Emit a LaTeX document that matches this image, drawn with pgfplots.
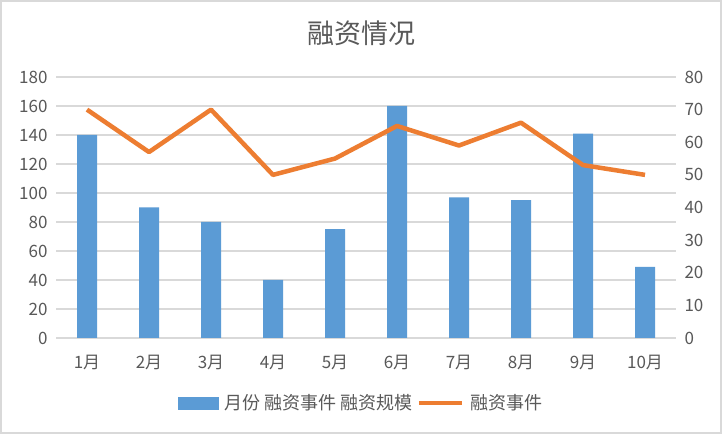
\documentclass[border=0pt]{standalone}
\usepackage{pgfplots}
\pgfplotsset{compat=1.18}
\usepackage{fontspec}
\setmainfont{Noto Sans CJK SC}
\definecolor{barblue}{HTML}{5B9BD5}
\definecolor{lineorange}{HTML}{ED7D31}
\definecolor{gridgray}{HTML}{D9D9D9}
\definecolor{txtgray}{HTML}{595959}
\begin{document}
\begin{tikzpicture}
\useasboundingbox (0,0) rectangle (722bp,434bp);
\fill[white] (0,0) rectangle (722bp,434bp);
\draw[gridgray, line width=2bp] (1bp,1bp) rectangle (721bp,433bp);
\node[txtgray, font=\fontsize{27bp}{31bp}\selectfont] at (361bp,401bp) {融资情况};
\begin{axis}[
  at={(56bp,96bp)}, anchor=south west,
  scale only axis, width=620bp, height=261bp,
  xmin=0.5, xmax=10.5, ymin=0, ymax=180,
  xtick={1,...,10},
  xticklabels={1月,2月,3月,4月,5月,6月,7月,8月,9月,10月},
  ytick={0,20,...,180},
  axis line style={draw=none},
  major tick length=0pt,
  ymajorgrids, grid style={gridgray, line width=1.3bp},
  tick label style={txtgray, font=\fontsize{17bp}{20bp}\selectfont},
  /pgf/number format/assume math mode=true,
  xticklabel style={yshift=-14bp},
  yticklabel style={xshift=-5bp},
]
\addplot[ybar, bar width=20bp, bar shift=0pt, fill=barblue, draw=none]
  coordinates {(1,140) (2,90) (3,80) (4,40) (5,75) (6,160) (7,97) (8,95) (9,141) (10,49)};
\end{axis}
\begin{axis}[
  at={(56bp,96bp)}, anchor=south west,
  scale only axis, width=620bp, height=261bp,
  xmin=0.5, xmax=10.5, ymin=0, ymax=80,
  axis y line*=right, axis x line=none,
  ytick={0,10,...,80},
  axis line style={draw=none},
  major tick length=0pt,
  tick label style={txtgray, font=\fontsize{17bp}{20bp}\selectfont},
  /pgf/number format/assume math mode=true,
  yticklabel style={xshift=5bp},
  legend style={draw=none, fill=none, at={(0.492,-0.249)}, anchor=center,
    font=\fontsize{18bp}{21bp}\selectfont, text=txtgray,
    /tikz/every odd column/.append style={column sep=4bp},
    /tikz/every even column/.append style={column sep=2bp}},
  legend columns=2,
]
\addlegendimage{legend image code/.code={\fill[barblue] (0bp,-6bp) rectangle (40bp,6bp);}}
\addlegendentry{月份 融资事件 融资规模}
\addplot[lineorange, line width=4.5bp, mark=none, line join=round,
  legend image code/.code={\draw[lineorange, line width=4.5bp] (0bp,0bp) -- (43bp,0bp);}]
  coordinates {(1,70) (2,57) (3,70) (4,50) (5,55) (6,65) (7,59) (8,66) (9,53) (10,50)};
\addlegendentry{融资事件}
\end{axis}
\end{tikzpicture}
\end{document}
